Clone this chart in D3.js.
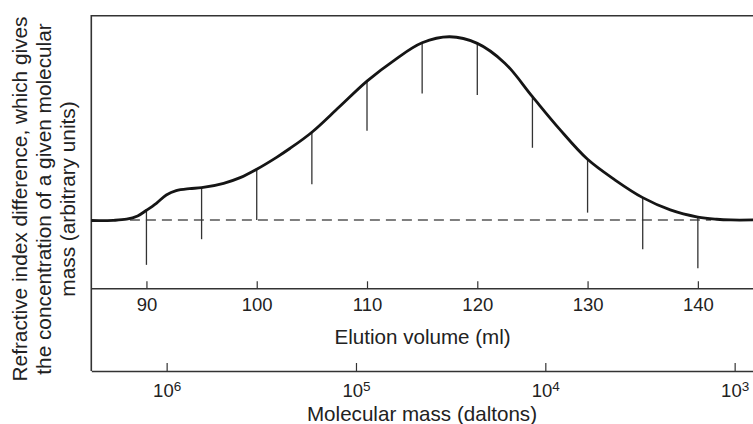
<!DOCTYPE html>
<html>
<head>
<meta charset="utf-8">
<script src="https://cdn.jsdelivr.net/npm/d3@7"></script>
<style>
  body { margin: 0; background: #fff; }
  svg { display: block; font-family: "Liberation Sans", Arial, Helvetica, sans-serif; }
</style>
</head>
<body>
<svg id="chart" width="753" height="424"></svg>
<script>
// elution profile (signal in arbitrary units, peak ~100)
const curveVolume = [85, 87, 88.2, 89.2, 90, 90.9, 91.8, 92.7, 93.9, 95, 97, 98.5, 100, 101.8, 103, 105,
  107.5, 110, 112.5, 115, 117.5, 120, 122.5, 125, 127.4, 130, 132.5, 135, 137.5, 140, 141.7, 143, 145];
const curveSignal = [-0.3, -0.2, 0.4, 2.2, 5.3, 9.1, 13.6, 16, 17.1, 17.6, 20, 23.1, 27.7, 34.2, 39, 47.9,
  61.8, 75.8, 87.3, 96.7, 100, 96.4, 85.6, 67.3, 50, 33.1, 21.8, 12.2, 5.5, 1.6, 0.4, 0, 0];

// vertical fraction markers
const sliceVolume = [90, 95, 100, 105, 110, 115, 120, 125, 130, 135, 140];
const sliceBottom = [-24.5, -10.5, 0, 19.5, 48.7, 69, 68.2, 39.4, 4, -16, -26.3];

const baselineVolume = [88.5, 141.2];

const elutionTicks = [90, 100, 110, 120, 130, 140];
const massTicks = [1e6, 1e5, 1e4, 1e3];

const yTitleLines = [
  "Refractive index difference, which gives",
  "the concentration of a given molecular",
  "mass (arbitrary units)"
];

const svg = d3.select("#chart");
const plotLeft = 91.3, plotRight = 753, plotTop = 15.7, axisY = 288.3, massY = 371;

const x = d3.scaleLinear().domain([85, 145]).range([plotLeft, plotRight]);
const y = d3.scaleLinear().domain([-37.3, 111.5]).range([axisY, plotTop]);
const xMass = d3.scaleLog().domain([2.5e6, 800]).range([plotLeft, plotRight]);

// frame
svg.append("path")
  .attr("d", `M${plotRight},${plotTop}H${plotLeft}V${massY}`)
  .attr("fill", "none")
  .attr("stroke", "#333")
  .attr("stroke-width", 1.6);

// dashed baseline
svg.append("line")
  .attr("x1", x(baselineVolume[0]))
  .attr("x2", x(baselineVolume[1]))
  .attr("y1", y(0))
  .attr("y2", y(0))
  .attr("stroke", "#555")
  .attr("stroke-width", 1.6)
  .attr("stroke-dasharray", "10,6");

// slices
const signalAt = v => curveSignal[curveVolume.indexOf(v)];
svg.append("g")
  .selectAll("line")
  .data(sliceVolume)
  .join("line")
  .attr("x1", d => x(d))
  .attr("x2", d => x(d))
  .attr("y1", d => y(signalAt(d)))
  .attr("y2", (d, i) => y(sliceBottom[i]))
  .attr("stroke", "#333")
  .attr("stroke-width", 1.3);

// elution profile
const profile = curveVolume.map((v, i) => [v, curveSignal[i]]);
svg.append("path")
  .datum(profile)
  .attr("fill", "none")
  .attr("stroke", "#151515")
  .attr("stroke-width", 2.8)
  .attr("d", d3.line().x(d => x(d[0])).y(d => y(d[1])).curve(d3.curveCatmullRom.alpha(0.5)));

// elution axis
const gx = svg.append("g")
  .attr("transform", `translate(0,${axisY})`)
  .call(d3.axisBottom(x).tickValues(elutionTicks).tickSize(-7).tickSizeOuter(0).tickPadding(10));
gx.attr("font-family", null).attr("font-size", null);
gx.select(".domain").attr("stroke", "#333").attr("stroke-width", 1.4);
gx.selectAll(".tick line").attr("stroke", "#333").attr("stroke-width", 1.2);
gx.selectAll(".tick text").attr("font-size", 18.5).attr("fill", "#222");

// molecular mass axis
const gm = svg.append("g")
  .attr("transform", `translate(0,${massY})`)
  .call(d3.axisBottom(xMass).tickValues(massTicks).tickSize(-8).tickSizeOuter(0).tickPadding(13));
gm.attr("font-family", null).attr("font-size", null);
gm.select(".domain").attr("stroke", "#333").attr("stroke-width", 1.4);
gm.selectAll(".tick line").attr("stroke", "#333").attr("stroke-width", 1.2);
gm.selectAll(".tick text")
  .attr("font-size", 18.5).attr("fill", "#222")
  .text(null)
  .each(function (d) {
    const t = d3.select(this);
    t.append("tspan").text("10");
    t.append("tspan").attr("font-size", 13.5).attr("dy", "-0.45em").text(Math.round(Math.log10(d)));
  });

// axis titles
svg.append("text")
  .attr("x", 422.6).attr("y", 344)
  .attr("text-anchor", "middle")
  .attr("font-size", 20.6).attr("fill", "#222")
  .text("Elution volume (ml)");

svg.append("text")
  .attr("x", 422).attr("y", 421)
  .attr("text-anchor", "middle")
  .attr("font-size", 20.6).attr("fill", "#222")
  .text("Molecular mass (daltons)");

svg.append("g")
  .selectAll("text")
  .data(yTitleLines)
  .join("text")
  .attr("transform", (d, i) => `translate(${27 + i * 24},199) rotate(-90)`)
  .attr("text-anchor", "middle")
  .attr("font-size", 20.8).attr("fill", "#222")
  .text(d => d);
</script>
</body>
</html>
